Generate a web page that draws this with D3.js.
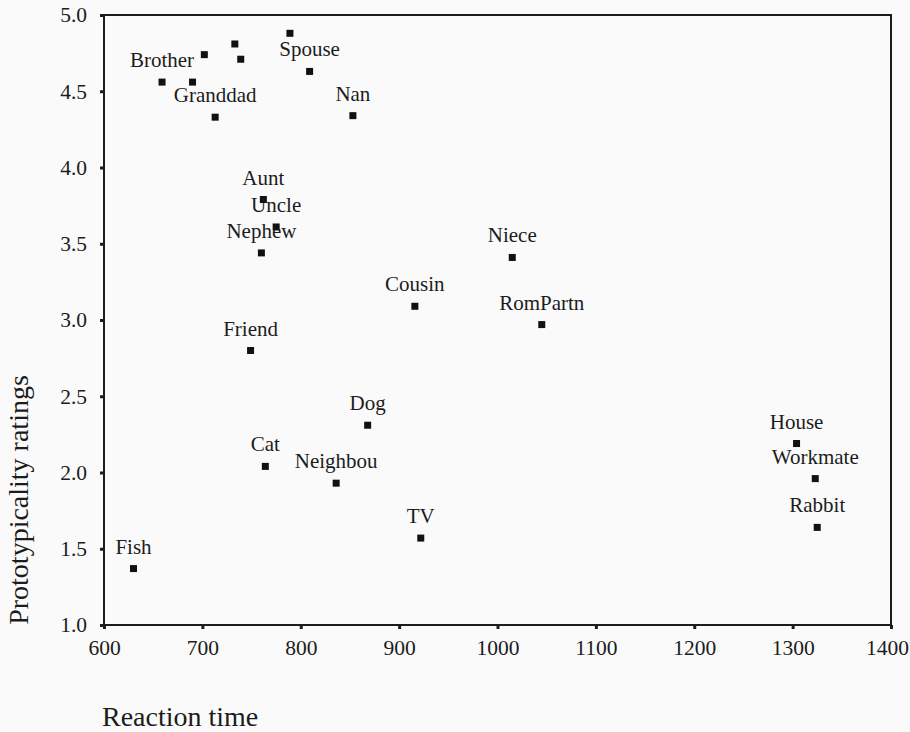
<!DOCTYPE html>
<html>
<head>
<meta charset="utf-8">
<script src="https://cdn.jsdelivr.net/npm/d3@7"></script>
<style>
  html, body { margin: 0; padding: 0; background: #fafafa; }
  svg { display: block; font-family: "Liberation Serif", "Times New Roman", serif; }
</style>
</head>
<body>
<svg id="chart" width="910" height="732"></svg>
<script>
// Word categories: mean reaction time (ms) against prototypicality rating
const words = ["Brother", "", "", "", "", "", "Spouse", "Granddad", "Nan",
  "Aunt", "Uncle", "Nephew", "Niece", "Cousin", "RomPartn", "Friend",
  "Dog", "Cat", "Neighbou", "TV", "Fish", "House", "Workmate", "Rabbit"];
const reactionTime = [659, 690, 702, 733, 739, 789, 809, 713, 853,
  762, 775, 760, 1015, 916, 1045, 749,
  868, 764, 836, 922, 630, 1304, 1323, 1325];
const prototypicality = [4.56, 4.56, 4.74, 4.81, 4.71, 4.88, 4.63, 4.33, 4.34,
  3.79, 3.61, 3.44, 3.41, 3.09, 2.97, 2.80,
  2.31, 2.04, 1.93, 1.57, 1.37, 2.19, 1.96, 1.64];

const xTicks = [600, 700, 800, 900, 1000, 1100, 1200, 1300, 1400];
const yTicks = [1.0, 1.5, 2.0, 2.5, 3.0, 3.5, 4.0, 4.5, 5.0];

const xTitle = "Reaction time";
const yTitle = "Prototypicality ratings";

const svg = d3.select("#chart");
const ink = "#1c1c1c";
const plotLeft = 104, plotRight = 891, plotTop = 15, plotBottom = 625;

const x = d3.scaleLinear().domain([600, 1400]).range([plotLeft, plotRight]);
const y = d3.scaleLinear().domain([1, 5]).range([plotBottom, plotTop]);

// Axes: short stubby ticks, labels in serif
const xAxis = svg.append("g")
  .attr("transform", `translate(0,${plotBottom})`)
  .call(d3.axisBottom(x).tickValues(xTicks).tickSize(4).tickPadding(11).tickFormat(d3.format("d")));
const yAxis = svg.append("g")
  .attr("transform", `translate(${plotLeft},0)`)
  .call(d3.axisLeft(y).tickValues(yTicks).tickSize(4).tickPadding(13).tickFormat(d3.format(".1f")));

[xAxis, yAxis].forEach(g => {
  g.select(".domain").remove();
  g.selectAll(".tick line").attr("stroke", ink).attr("stroke-width", 3);
  g.selectAll(".tick text")
    .attr("fill", ink)
    .style("font-family", "'Liberation Serif', 'Times New Roman', serif")
    .style("font-size", "21.5px");
});
// keep the last x label inside the page edge
xAxis.selectAll(".tick text").filter(d => d === xTicks[xTicks.length - 1]).attr("dx", -4);

// Plot frame
svg.append("rect")
  .attr("x", plotLeft).attr("y", plotTop)
  .attr("width", plotRight - plotLeft).attr("height", plotBottom - plotTop)
  .attr("fill", "none").attr("stroke", ink).attr("stroke-width", 2);

// Points
const pts = reactionTime.map((rt, i) => ({ rt, p: prototypicality[i], name: words[i] }));
const size = 7;
svg.append("g").selectAll("rect")
  .data(pts)
  .join("rect")
  .attr("x", d => x(d.rt) - size / 2)
  .attr("y", d => y(d.p) - size / 2)
  .attr("width", size).attr("height", size)
  .attr("fill", "#111");

// Point labels, centred above each marker
svg.append("g").selectAll("text")
  .data(pts.filter(d => d.name))
  .join("text")
  .attr("x", d => x(d.rt))
  .attr("y", d => y(d.p) - 15)
  .attr("text-anchor", "middle")
  .attr("fill", ink)
  .style("font-size", "21px")
  .text(d => d.name);

// Axis titles
svg.append("text")
  .attr("x", 102).attr("y", 726)
  .attr("fill", ink)
  .style("font-size", "28px")
  .text(xTitle);

svg.append("text")
  .attr("transform", "translate(28,500) rotate(-90)")
  .attr("text-anchor", "middle")
  .attr("fill", ink)
  .style("font-size", "28px")
  .text(yTitle);
</script>
</body>
</html>
